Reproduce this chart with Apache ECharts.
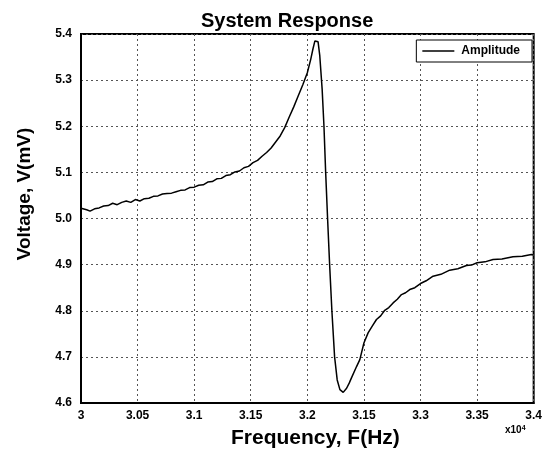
<!DOCTYPE html>
<html>
<head>
<meta charset="utf-8">
<script src="https://cdn.jsdelivr.net/npm/echarts@6/dist/echarts.min.js"></script>
<style>html,body{margin:0;padding:0;background:#fff}#c{width:545px;height:455px}</style>
</head>
<body>
<div id="c"></div>
<script>
// Frequency in units of x10^4 Hz
var freq = [3.000,3.005,3.008,3.012,3.016,3.020,3.024,3.028,3.032,3.036,3.040,3.044,3.048,3.052,3.056,3.060,3.064,3.068,3.072,3.076,3.080,3.084,3.088,3.092,3.096,3.100,3.104,3.108,3.112,3.116,3.120,3.124,3.128,3.132,3.136,3.140,3.144,3.148,3.152,3.156,3.160,3.164,3.168,3.172,3.176,3.180,3.184,3.188,3.192,3.196,3.200,3.203,3.205,3.2067,3.208,3.2095,3.211,3.2131,3.2147,3.2162,3.2179,3.2197,3.2217,3.2241,3.2264,3.2288,3.2317,3.2347,3.237,3.2391,3.2435,3.2464,3.250,3.2537,3.2575,3.2611,3.2648,3.2684,3.272,3.2758,3.2795,3.2832,3.2868,3.2905,3.295,3.300,3.305,3.3111,3.318,3.3258,3.333,3.3406,3.345,3.350,3.357,3.3641,3.372,3.3817,3.390,3.398,3.400];
// Amplitude, mV
var amplitude = [5.022,5.019,5.016,5.021,5.023,5.027,5.028,5.033,5.030,5.035,5.038,5.035,5.041,5.038,5.043,5.044,5.048,5.049,5.053,5.054,5.055,5.058,5.061,5.062,5.067,5.068,5.072,5.073,5.079,5.080,5.086,5.087,5.093,5.095,5.101,5.103,5.110,5.113,5.121,5.126,5.135,5.143,5.153,5.166,5.179,5.197,5.220,5.242,5.266,5.290,5.316,5.345,5.368,5.385,5.389,5.383,5.353,5.280,5.200,5.100,5.000,4.900,4.800,4.700,4.650,4.629,4.623,4.632,4.643,4.655,4.679,4.694,4.730,4.752,4.767,4.781,4.789,4.801,4.807,4.817,4.825,4.835,4.839,4.846,4.850,4.859,4.865,4.875,4.879,4.888,4.891,4.898,4.899,4.904,4.906,4.911,4.912,4.917,4.918,4.922,4.921];
var xTickLabels = ["3","3.05","3.1","3.15","3.2","3.15","3.3","3.35","3.4"];
var yTickLabels = ["4.6","4.7","4.8","4.9","5.0","5.1","5.2","5.3","5.4"];
var seriesName = "Amplitude";

var FONT = '"Liberation Sans", Arial, sans-serif';
var pts = freq.map(function(f,i){return [f, amplitude[i]];});
var chart = echarts.init(document.getElementById('c'), null, {renderer:'canvas'});
chart.setOption({
  animation:false,
  backgroundColor:'#fff',
  grid:{left:81,right:11,top:34,bottom:52,show:true,borderColor:'#000',borderWidth:2,backgroundColor:'transparent'},
  title:{text:'System Response',left:196,top:6,textStyle:{fontFamily:FONT,fontWeight:'bold',fontSize:20,color:'#000'}},
  legend:{data:[seriesName],right:13,top:40,orient:'horizontal',icon:'rect',itemWidth:32,itemHeight:1.5,itemGap:10,
    backgroundColor:'#fff',borderColor:'#000',borderWidth:1,padding:[5,12,5,6],
    textStyle:{fontFamily:FONT,fontWeight:'bold',fontSize:12,color:'#000',padding:[0,0,0,2]}},
  xAxis:{type:'value',min:3,max:3.4,interval:0.05,
    axisLine:{show:true,lineStyle:{color:'#000',width:2}},axisTick:{show:false},
    axisLabel:{margin:7,fontFamily:FONT,fontWeight:'bold',fontSize:12,color:'#000',
      formatter:function(v){return xTickLabels[Math.round((v-3)/0.05)];}},
    splitLine:{show:true,lineStyle:{color:'#555',width:1,type:[2,3]}}},
  yAxis:{type:'value',min:4.6,max:5.4,interval:0.1,
    axisLine:{show:true,lineStyle:{color:'#000',width:2}},axisTick:{show:false},
    axisLabel:{margin:9,fontFamily:FONT,fontWeight:'bold',fontSize:12,color:'#000',
      formatter:function(v){return yTickLabels[Math.round((v-4.6)/0.1)];}},
    splitLine:{show:true,lineStyle:{color:'#555',width:1,type:[2,3]}}},
  series:[{name:seriesName,type:'line',data:pts,showSymbol:false,symbol:'none',
    lineStyle:{color:'#000',width:1.5},itemStyle:{color:'#000'},z:3}],
  graphic:[
    {type:'text',left:231,top:428,style:{text:'Frequency, F(Hz)',font:'bold 21px '+FONT,fill:'#000'}},
    {type:'text',x:25,y:194,rotation:Math.PI/2,style:{text:'Voltage, V(mV)',font:'bold 19px '+FONT,fill:'#000',align:'center',verticalAlign:'middle'}},
    {type:'text',left:505,top:425,style:{rich:{b:{font:'bold 10px '+FONT,fill:'#000'},s:{font:'bold 7px '+FONT,fill:'#000',verticalAlign:'top',padding:[0,0,4,0]}},text:'{b|x10}{s|4}'}}
  ]
});
</script>
</body>
</html>
